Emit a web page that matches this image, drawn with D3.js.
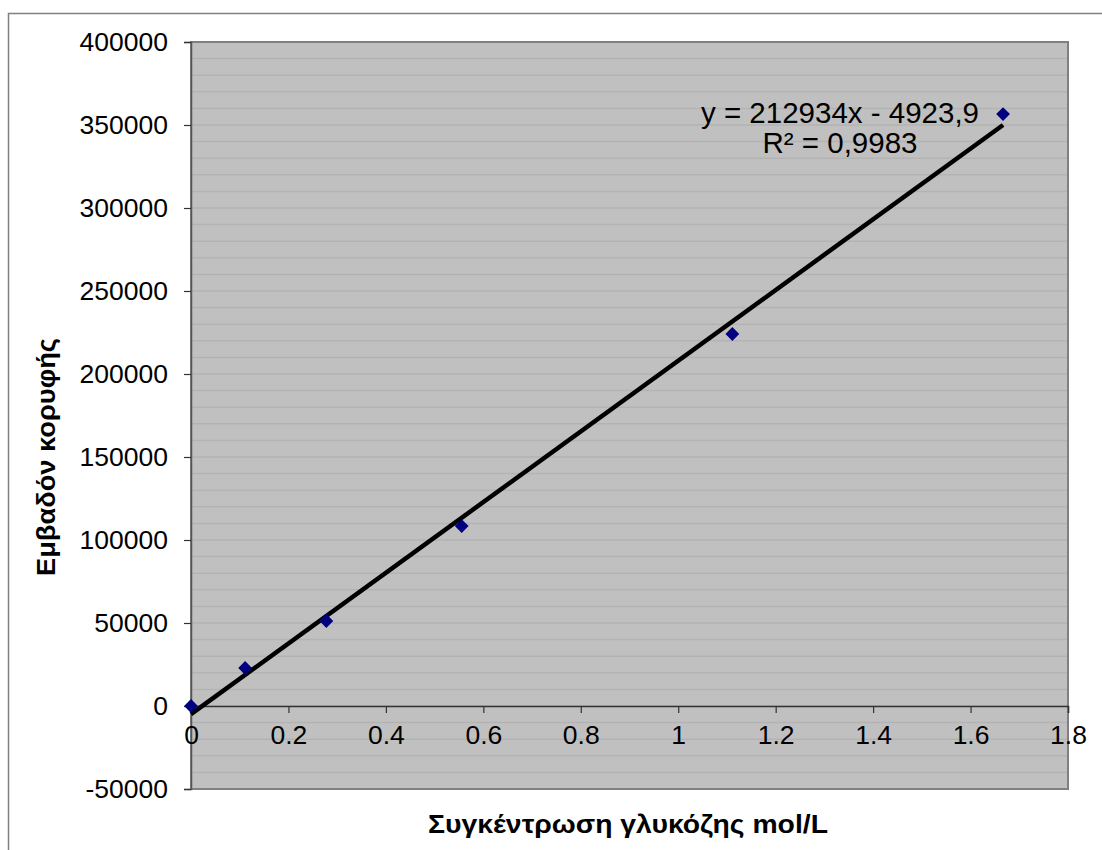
<!DOCTYPE html>
<html><head>
<meta charset="utf-8">
<script src="https://d3js.org/d3.v7.min.js"></script>
<style>
  body { margin: 0; background: #fff; }
  text { font-family: "Liberation Sans", Arial, sans-serif; }
</style>
</head>
<body>
<script>
  // data
  var conc = [0, 0.1111, 0.2778, 0.5556, 1.1111, 1.6667];
  var area = [0, 22900, 51200, 108400, 224100, 356600];
  var yTicks = [-50000, 0, 50000, 100000, 150000, 200000, 250000, 300000, 350000, 400000];
  var xTicks = [0, 0.2, 0.4, 0.6, 0.8, 1, 1.2, 1.4, 1.6, 1.8];
  var slope = 212934, intercept = -4923.9;
  var eqLines = ["y = 212934x - 4923,9", "R² = 0,9983"];

  let width = 1102, height = 850;
  let svg = d3.select("body").append("svg").attr("width", width).attr("height", height);

  // outer chart frame (runs off the bottom / right)
  svg.append("rect").attr("x", 8.5).attr("y", 13.5).attr("width", 1110).attr("height", 900)
     .attr("fill", "#fff").attr("stroke", "#808080").attr("stroke-width", 1.5);

  let margin = { left: 191, top: 42, right: 1068, bottom: 789 };
  let xScale = d3.scaleLinear().domain([0, 1.8]).range([margin.left, margin.right]);
  let yScale = d3.scaleLinear().domain([-50000, 400000]).range([margin.bottom, margin.top]);

  // plot area
  svg.append("rect").attr("x", margin.left).attr("y", margin.top)
     .attr("width", margin.right - margin.left).attr("height", margin.bottom - margin.top)
     .attr("fill", "#c0c0c0");

  // minor grid every 10000
  for (let v = -40000; v < 400000; v += 10000) {
    svg.append("line").attr("x1", margin.left).attr("x2", margin.right)
       .attr("y1", yScale(v)).attr("y2", yScale(v))
       .attr("stroke", "#b3b3b3").attr("stroke-width", 1.5);
  }

  // plot border
  svg.append("rect").attr("x", margin.left).attr("y", margin.top)
     .attr("width", margin.right - margin.left).attr("height", margin.bottom - margin.top)
     .attr("fill", "none").attr("stroke", "#808080").attr("stroke-width", 2);

  // y axis
  let yAxis = d3.axisLeft(yScale).tickValues(yTicks).tickSize(7).tickPadding(16).tickFormat(d => String(d));
  let gy = svg.append("g").attr("transform", "translate(" + margin.left + ",0)").call(yAxis);
  gy.select(".domain").attr("stroke", "#555").attr("stroke-width", 1.5);
  gy.selectAll(".tick line").attr("stroke", "#333").attr("stroke-width", 1.2);
  gy.selectAll(".tick text").attr("font-size", 26.5).attr("fill", "#000")
    .attr("font-family", "Liberation Sans, Arial, sans-serif");

  // x axis at y = 0
  let xAxis = d3.axisBottom(xScale).tickValues(xTicks).tickSize(7).tickPadding(12).tickFormat(d => String(d));
  let gx = svg.append("g").attr("transform", "translate(0," + yScale(0) + ")").call(xAxis);
  gx.select(".domain").attr("stroke", "#333").attr("stroke-width", 1.5);
  gx.selectAll(".tick line").attr("stroke", "#333").attr("stroke-width", 1.2);
  gx.selectAll(".tick text").attr("font-size", 26.5).attr("fill", "#000")
    .attr("font-family", "Liberation Sans, Arial, sans-serif");

  // trendline
  let x0 = conc[0], x1 = conc[conc.length - 1];
  svg.append("line")
     .attr("x1", xScale(x0)).attr("y1", yScale(slope * x0 + intercept))
     .attr("x2", xScale(x1)).attr("y2", yScale(slope * x1 + intercept))
     .attr("stroke", "#000").attr("stroke-width", 4.5);

  // points
  conc.forEach(function(c, i) {
    svg.append("path")
       .attr("d", d3.symbol().type(d3.symbolSquare).size(95)())
       .attr("transform", "translate(" + xScale(c) + "," + yScale(area[i]) + ") rotate(45)")
       .attr("fill", "#000080");
  });

  // equation
  eqLines.forEach(function(t, i) {
    svg.append("text").attr("x", 840).attr("y", 123 + i * 30)
       .attr("text-anchor", "middle").attr("font-size", 29.5).attr("fill", "#000").text(t);
  });

  // axis titles
  svg.append("text").attr("x", 628).attr("y", 833).attr("text-anchor", "middle")
     .attr("font-weight", "bold").attr("font-size", 26)
     .attr("textLength", 400).attr("lengthAdjust", "spacingAndGlyphs")
     .text("Συγκέντρωση γλυκόζης mol/L");

  svg.append("text").attr("transform", "translate(55,457) rotate(-90)").attr("text-anchor", "middle")
     .attr("font-weight", "bold").attr("font-size", 26)
     .attr("textLength", 238).attr("lengthAdjust", "spacingAndGlyphs")
     .text("Εμβαδόν κορυφής");
</script>
</body>
</html>
